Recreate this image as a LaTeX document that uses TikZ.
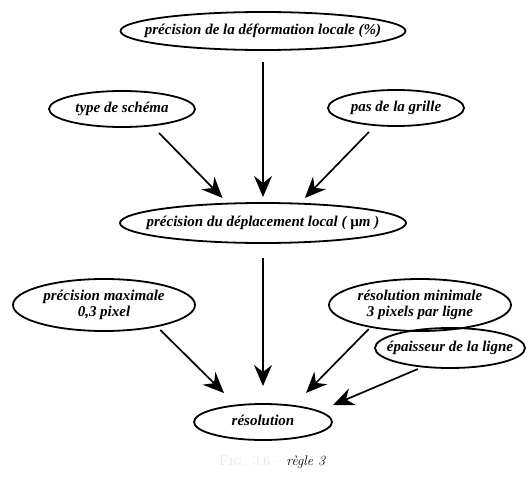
\documentclass[tikz,border=0pt]{standalone}
\usepackage{fontspec}
\newfontfamily\bullefont{Liberation Serif}
\usetikzlibrary{shapes.geometric,arrows.meta}
% texte sans largeur, pour que la bulle garde sa taille
\newcommand\bul[1]{\makebox[0pt]{\begin{tabular}{@{}c@{}}#1\end{tabular}}}
\tikzset{
  bulle/.style={draw, ellipse, line width=1.8pt, inner sep=0pt, outer sep=0pt,
    font=\bullefont\bfseries\itshape\fontsize{15}{16}\selectfont},
  fleche/.style={line width=1.7pt, -{Stealth[length=21pt,width=18pt,inset=7pt]}}
}
\begin{document}
\begin{tikzpicture}[x=1pt,y=-1pt]
  \useasboundingbox (0,0) rectangle (531,479);
  % les bulles
  \node[bulle, minimum width=285pt, minimum height=38pt] (defo) at (263,31) {\bul{précision de la déformation locale (\%)}};
  \node[bulle, minimum width=146pt, minimum height=36pt] (schema) at (122,109) {\bul{type de schéma}};
  \node[bulle, minimum width=136pt, minimum height=36pt] (grille) at (396,108) {\bul{pas de la grille}};
  \node[bulle, minimum width=286pt, minimum height=40pt] (depl) at (263,223) {\bul{précision du déplacement local ( {\upshape µ}m )}};
  \node[bulle, minimum width=182pt, minimum height=52pt] (precmax) at (104,305) {\bul{précision maximale\\0,3 pixel}};
  \node[bulle, minimum width=182pt, minimum height=52pt] (resmin) at (420,305) {\bul{résolution minimale\\3 pixels par ligne}};
  \node[bulle, minimum width=150pt, minimum height=40pt] (epais) at (450,348) {\bul{épaisseur de la ligne}};
  \node[bulle, minimum width=138pt, minimum height=36pt] (resol) at (263,422) {\bul{résolution}};
  % les fleches
  \foreach \a/\b/\s/\e in {defo.south/depl.north/12/6, schema.-29/depl.151/10.6/7.8,
      grille.-140/depl.28/9.5/7.9, depl.south/resol.north/15/18, precmax.-22/resol.148/5.3/17.5,
      resmin.-156/resol.28/3/18.1, epais.-145/resol.11/6/16}
    \draw[fleche, shorten <=\s pt, shorten >=\e pt] (\a) -- (\b);
  \node[font=\itshape\fontsize{14}{16}\selectfont] (legende) at (272,462) {\textcolor{black!10}{\upshape\textsc{Fig.} 3.6 --} règle 3};
\end{tikzpicture}
\end{document}
